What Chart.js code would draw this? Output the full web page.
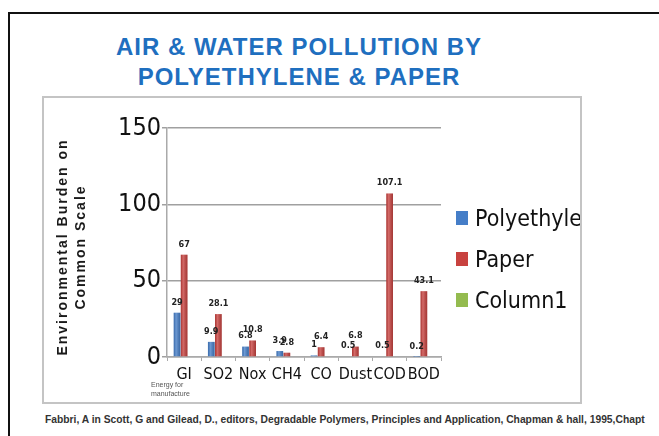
<!DOCTYPE html>
<html>
<head>
<meta charset="utf-8">
<script src="https://cdn.jsdelivr.net/npm/chart.js@4/dist/chart.umd.min.js"></script>
<style>
  html, body { margin: 0; padding: 0; background: #fff; }
  body { width: 659px; height: 436px; position: relative; overflow: hidden; font-family: 'Liberation Sans', Arial, sans-serif; }
  .frame { position: absolute; left: 8px; top: 12px; width: 700px; height: 500px; border-left: 2px solid #111; border-top: 2px solid #111; }
  .title { position: absolute; left: 0; width: 598px; top: 32px; text-align: center; color: #1f6fbf; font-weight: bold; font-size: 24px; line-height: 30px; letter-spacing: 1px; }
  .box { position: absolute; left: 42px; top: 96px; width: 536px; height: 304px; border: 2px solid #c4c4c4; overflow: hidden; }
  .box canvas { position: absolute; left: 0; top: 0; }
  .ytitle { position: absolute; left: 71px; top: 247px; width: 300px; transform: translate(-50%, -50%) rotate(-90deg); text-align: center; font-weight: bold; font-size: 14px; line-height: 18px; letter-spacing: 2px; color: #1a1a1a; }
  .note { position: absolute; left: 151px; top: 380px; font-size: 7px; line-height: 9px; color: #555; }
  .legend { position: absolute; left: 412px; top: 106px; white-space: nowrap; font-family: 'DejaVu Sans Condensed', sans-serif; font-size: 23px; color: #111; }
  .legend div { height: 41px; line-height: 28px; }
  .legend span { display: inline-block; width: 12px; height: 14px; margin-right: 7px; vertical-align: 1px; }
  .source { position: absolute; left: 45px; top: 414px; white-space: nowrap; font-weight: bold; font-size: 10.3px; color: #333; }
</style>
</head>
<body>
<div class="frame"></div>
<div class="title">AIR &amp; WATER POLLUTION BY<br>POLYETHYLENE &amp; PAPER</div>
<div class="box">
  <canvas id="pollutionChart" width="536" height="304"></canvas>
  <div class="legend" id="legend"></div>
</div>
<div class="ytitle">Environmental Burden on<br>Common Scale</div>
<div class="note">Energy for<br>manufacture</div>
<div class="source">Fabbri, A in Scott, G and Gilead, D., editors, Degradable Polymers, Principles and Application, Chapman &amp; hall, 1995,Chapt</div>

<script>
const categories = ['GI', 'SO2', 'Nox', 'CH4', 'CO', 'Dust', 'COD', 'BOD'];
const polyethylene = [29, 9.9, 6.8, 3.9, 1, 0.5, 0.5, 0.2];
const paper = [67, 28.1, 10.8, 2.8, 6.4, 6.8, 107.1, 43.1];
const column1 = [];
const yTicks = [0, 50, 100, 150];

const condensed = "'DejaVu Sans Condensed', sans-serif";
const ctx = document.getElementById('pollutionChart').getContext('2d');

// light/dark shading so the bars look a bit round like the original
const barShading = {
    id: 'barShading',
    afterDatasetsDraw(chart) {
        const c = chart.ctx;
        c.save();
        chart.data.datasets.forEach((ds, i) => {
            chart.getDatasetMeta(i).data.forEach(bar => {
                const w = bar.width;
                const left = bar.x - w / 2;
                const g = c.createLinearGradient(left, 0, left + w, 0);
                g.addColorStop(0, 'rgba(0,0,0,0.12)');
                g.addColorStop(0.35, 'rgba(255,255,255,0.22)');
                g.addColorStop(1, 'rgba(0,0,0,0.18)');
                c.fillStyle = g;
                c.fillRect(left, bar.y, w, bar.base - bar.y);
            });
        });
        c.restore();
    }
};

// value written above each bar
const valueLabels = {
    id: 'valueLabels',
    afterDatasetsDraw(chart) {
        const c = chart.ctx;
        c.save();
        c.font = 'bold 9px ' + condensed;
        c.fillStyle = '#222';
        c.textAlign = 'center';
        c.textBaseline = 'bottom';
        chart.data.datasets.forEach((ds, i) => {
            chart.getDatasetMeta(i).data.forEach((bar, j) => {
                if (ds.data[j] == null) return;
                c.fillText(String(ds.data[j]), bar.x, bar.y - 6);
            });
        });
        c.restore();
    }
};

const chart = new Chart(ctx, {
    type: 'bar',
    data: {
        labels: categories,
        datasets: [
            { label: 'Polyethylene', data: polyethylene, backgroundColor: '#457ec8' },
            { label: 'Paper', data: paper, backgroundColor: '#c8423f' },
            { label: 'Column1', data: column1, backgroundColor: '#94bb4f' }
        ]
    },
    options: {
        responsive: false,
        animation: false,
        layout: { padding: { left: 0, top: 30, right: 139, bottom: 0 } },
        plugins: { legend: { display: false }, tooltip: { enabled: false } },
        datasets: { bar: { barPercentage: 0.95, categoryPercentage: 0.62 } },
        scales: {
            x: {
                afterFit: (scale) => { scale.height = 45; },
                grid: { display: true, drawOnChartArea: false, tickLength: 4, color: '#aaa' },
                border: { display: true, color: '#aaa', width: 1.5 },
                ticks: { color: '#111', padding: 4, maxRotation: 0, minRotation: 0, autoSkip: false, font: { family: condensed, size: 16 } }
            },
            y: {
                min: 0,
                max: 150,
                afterFit: (scale) => { scale.width = 123; },
                afterBuildTicks: (scale) => { scale.ticks = yTicks.map(v => ({ value: v })); },
                grid: { color: '#a0a0a0', lineWidth: 1.5, tickLength: 5 },
                border: { display: true, color: '#aaa', width: 1.5 },
                ticks: { color: '#111', padding: 1, font: { family: condensed, size: 25 } }
            }
        }
    },
    plugins: [barShading, valueLabels]
});

const legend = document.getElementById('legend');
chart.data.datasets.forEach(ds => {
    const row = document.createElement('div');
    row.innerHTML = `<span style="background:${ds.backgroundColor}"></span>${ds.label}`;
    legend.appendChild(row);
});
</script>
</body>
</html>
